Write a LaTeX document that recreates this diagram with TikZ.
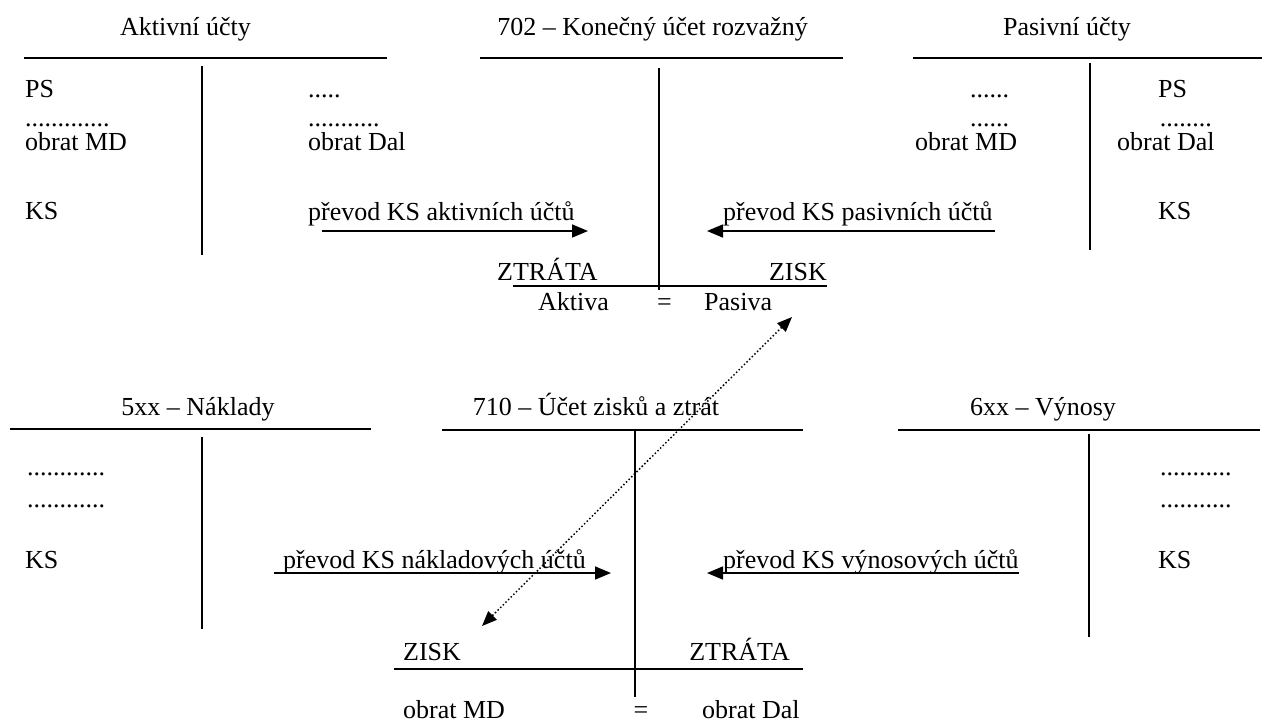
\documentclass[tikz,border=0pt]{standalone}
\usepackage{fontspec}
\setmainfont{Liberation Serif}
\usepackage{tikz}
\usetikzlibrary{arrows.meta}
\newcommand{\acctfont}{\fontsize{26}{31}\selectfont}
\tikzset{
  tAccLine/.style={line width=1.6pt},
  tAccArrow/.style={-{Triangle[length=16pt, width=13pt]}, line width=1.6pt},
  tAccDotArrow/.style={{Triangle[length=15pt, width=12pt]}-{Triangle[length=15pt, width=12pt]}, line width=1.5pt, dash pattern=on 1.5pt off 2.2pt}
}
\begin{document}
\begin{tikzpicture}[x=1pt, y=-1pt,
        title/.style={anchor=base, inner sep=0pt, font=\acctfont},
        entry/.style={anchor=base west, inner sep=0pt, font=\acctfont},
        entryR/.style={anchor=base east, inner sep=0pt, font=\acctfont},
        dots/.style={anchor=base west, inner sep=0pt, font=\acctfont, text height=4pt, text depth=0pt},
        dotsR/.style={dots, anchor=base east},
        eq/.style={anchor=base, inner sep=0pt, font=\acctfont}
      ]
      \useasboundingbox (0,0) rectangle (1264,724);
      \node[title] (aktTitle) at (185.5,35) {Aktivní účty};
      \node[title] (konTitle) at (652.5,35) {702 – Konečný účet rozvažný};
      \node[title] (pasTitle) at (1067,35) {Pasivní účty};
      \node[title] (nakTitle) at (198,415) {5xx – Náklady};
      \node[title] (vzTitle) at (596,415) {710 – Účet zisků a ztrát};
      \node[title] (vynTitle) at (1043,415) {6xx – Výnosy};
      \node[entry] (aktPS) at (25,97) {PS};
      \node[dots] (aktDots) at (25,126) {.............};
      \node[entry] (aktMD) at (25,150) {obrat MD};
      \node[entry] (aktKS) at (25,219) {KS};
      \node[dots] (aktDotsA) at (308,97) {.....};
      \node[dots] (aktDotsB) at (308,126) {...........};
      \node[entry] (aktDal) at (308,150) {obrat Dal};
      \node[entry] (aktPrevod) at (308,220) {převod KS aktivních účtů};
      \node[dots] (pasDotsA) at (970,97) {......};
      \node[dots] (pasDotsB) at (970,126) {......};
      \node[entry] (pasMD) at (915,150) {obrat MD};
      \node[entry] (pasPrevod) at (723,220) {převod KS pasivních účtů};
      \node[entry] (pasPS) at (1158,97) {PS};
      \node[dotsR] (pasDots) at (1212,126) {........};
      \node[entry] (pasDal) at (1117,150) {obrat Dal};
      \node[entry] (pasKS) at (1158,219) {KS};
      \node[entry] (konZtrata) at (497,280) {ZTRÁTA};
      \node[entryR] (konZisk) at (827,280) {ZISK};
      \node[entry] (konAktiva) at (538,310) {Aktiva};
      \node[eq] (konEq) at (664.5,310) {=};
      \node[entry] (konPasiva) at (704,310) {Pasiva};
      \node[dots] (nakDotsA) at (27,475) {............};
      \node[dots] (nakDotsB) at (27,507) {............};
      \node[entry] (nakKS) at (25,568) {KS};
      \node[entry] (nakPrevod) at (283,568) {převod KS nákladových účtů};
      \node[entry] (vynPrevod) at (723,568) {převod KS výnosových účtů};
      \node[dots] (vynDotsA) at (1160,475) {...........};
      \node[dots] (vynDotsB) at (1160,507) {...........};
      \node[entry] (vynKS) at (1158,568) {KS};
      \node[entry] (vzZisk) at (403,660) {ZISK};
      \node[entryR] (vzZtrata) at (790,660) {ZTRÁTA};
      \node[entry] (vzMD) at (403,718) {obrat MD};
      \node[eq] (vzEq) at (641,718) {=};
      \node[entry] (vzDal) at (702,718) {obrat Dal};
      \coordinate (aktFrom) at (322,231);
      \coordinate (aktTo) at (588,231);
      \coordinate (pasFrom) at (995,231);
      \coordinate (pasTo) at (707,231);
      \coordinate (nakFrom) at (274,573);
      \coordinate (nakTo) at (611,573);
      \coordinate (vynFrom) at (1019,573);
      \coordinate (vynTo) at (707,573);
      \coordinate (vzEnd) at (482,626);
      \coordinate (konEnd) at (792,317);
      \draw[tAccLine] (24,58) -- (387,58) (202,66) -- (202,255);
      \draw[tAccLine] (480,58) -- (843,58) (659,68) -- (659,290);
      \draw[tAccLine] (513,286) -- (827,286);
      \draw[tAccLine] (913,58) -- (1262,58) (1090,63) -- (1090,250);
      \draw[tAccLine] (10,429) -- (371,429) (202,437) -- (202,629);
      \draw[tAccLine] (442,430) -- (803,430) (635,430) -- (635,697);
      \draw[tAccLine] (394,669) -- (803,669);
      \draw[tAccLine] (898,430) -- (1260,430) (1089,434) -- (1089,637);
      \draw[tAccArrow] (aktFrom) -- (aktTo);
      \draw[tAccArrow] (pasFrom) -- (pasTo);
      \draw[tAccArrow] (nakFrom) -- (nakTo);
      \draw[tAccArrow] (vynFrom) -- (vynTo);
      \draw[tAccDotArrow] (vzEnd) -- (konEnd);
    \end{tikzpicture}
\end{document}
